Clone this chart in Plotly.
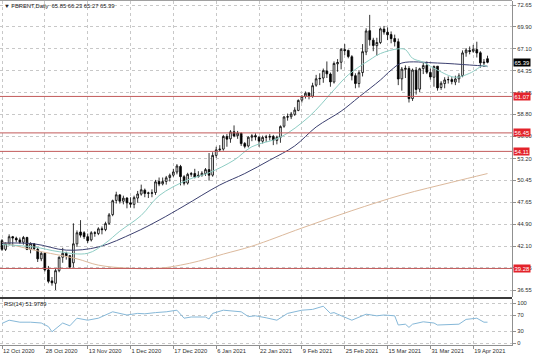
import pandas as pd
import plotly.graph_objects as go

# ---------------- data ----------------
symbol = "FBRENT,Daily"
holidays = ["2020-12-25", "2021-01-01", "2021-04-02"]
dates = [d for d in pd.bdate_range("2020-10-12", "2021-04-23") if d.strftime("%Y-%m-%d") not in holidays]

opens = [42.8, 41.7, 42.4, 43.3, 43.1, 42.9, 42.6, 43.2, 41.7, 42.4,
         41.7, 40.5, 41.2, 39.1, 37.7, 37.4, 39.0, 40.7, 41.2, 40.9,
         40.0, 42.4, 43.9, 43.8, 43.3, 42.9, 43.8, 43.7, 44.3, 44.2,
         45.0, 46.1, 47.9, 48.6, 47.8, 48.2, 47.6, 47.4, 48.2, 48.7,
         49.2, 48.8, 48.8, 48.9, 50.3, 50.0, 50.3, 50.8, 51.1, 51.5,
         52.2, 50.9, 50.1, 51.2, 51.3, 50.9, 51.1, 51.3, 51.8, 51.1,
         53.6, 54.3, 54.4, 56.0, 55.7, 56.6, 56.1, 56.4, 55.1, 54.8,
         55.9, 56.1, 55.9, 55.4, 55.9, 55.9, 56.0, 55.5, 55.9, 57.3,
         58.5, 58.5, 58.8, 59.3, 60.6, 61.1, 61.5, 61.1, 62.5, 63.3,
         63.4, 64.3, 63.9, 62.9, 65.2, 65.4, 67.0, 66.9, 66.1, 63.7,
         62.7, 64.1, 66.7, 69.4, 68.2, 67.5, 67.9, 69.6, 69.2, 68.9,
         68.4, 68.0, 63.3, 64.5, 64.6, 60.8, 64.4, 62.0, 64.6, 65.0,
         64.1, 63.5, 64.9, 62.2, 62.7, 63.2, 63.2, 62.9, 63.3, 63.7,
         66.6, 66.9, 66.8, 67.0, 66.6, 65.3, 65.85]
highs = [43.0, 42.6, 43.6, 43.4, 43.3, 43.2, 43.4, 43.3, 42.6, 42.5,
         41.9, 41.4, 41.3, 39.6, 38.2, 39.3, 40.8, 41.9, 41.4, 41.0,
         45.0, 44.1, 45.4, 44.0, 43.7, 44.0, 44.0, 44.5, 44.6, 45.2,
         46.3, 48.0, 49.0, 48.7, 48.5, 48.3, 48.3, 48.5, 49.1, 49.9,
         49.4, 49.0, 49.3, 50.5, 50.8, 50.8, 51.0, 51.3, 51.9, 52.5,
         52.4, 51.1, 51.4, 51.5, 51.9, 51.6, 51.6, 52.0, 53.9, 54.0,
         54.7, 54.9, 56.2, 56.3, 56.8, 57.4, 56.7, 56.5, 55.3, 56.0,
         56.3, 56.4, 56.0, 56.1, 56.2, 56.3, 56.2, 56.1, 57.4, 58.6,
         58.9, 59.1, 59.7, 60.7, 61.2, 61.7, 61.6, 62.8, 63.8, 64.0,
         64.6, 65.5, 64.1, 65.5, 65.8, 67.2, 67.7, 67.0, 66.3, 64.0,
         64.4, 67.7, 69.7, 71.4, 68.5, 68.5, 69.8, 70.0, 69.8, 69.3,
         68.9, 68.4, 64.8, 65.0, 64.9, 64.6, 64.8, 64.7, 65.4, 65.5,
         64.6, 65.0, 64.9, 63.0, 63.5, 63.6, 63.5, 63.7, 64.0, 66.9,
         67.2, 67.4, 67.6, 68.0, 66.8, 65.8, 66.23]
lows = [41.5, 41.5, 42.2, 42.1, 42.6, 42.4, 42.3, 41.6, 41.2, 41.6,
        40.1, 40.2, 38.9, 37.4, 37.1, 36.55, 38.8, 40.0, 40.4, 39.3,
        39.4, 42.0, 43.2, 43.0, 42.5, 42.7, 43.3, 43.5, 43.6, 44.0,
        44.8, 45.9, 47.5, 47.5, 47.4, 46.9, 47.0, 46.9, 47.6, 48.5,
        48.3, 48.2, 48.3, 48.6, 49.7, 49.8, 49.9, 50.3, 50.9, 51.2,
        49.8, 49.8, 49.9, 50.9, 50.7, 50.8, 50.9, 51.0, 50.4, 50.9,
        53.3, 54.1, 54.2, 54.7, 55.2, 55.9, 55.7, 54.8, 54.5, 54.6,
        55.4, 55.5, 54.7, 55.1, 55.3, 55.5, 54.9, 55.0, 55.2, 57.1,
        58.0, 58.2, 58.6, 59.2, 60.3, 60.8, 60.7, 60.9, 62.3, 62.5,
        62.8, 63.4, 62.3, 62.7, 64.2, 64.5, 66.3, 65.9, 63.1, 62.1,
        62.2, 63.6, 66.3, 67.5, 66.8, 66.2, 67.7, 68.9, 68.2, 67.8,
        67.4, 62.5, 61.8, 63.4, 60.3, 60.5, 61.3, 61.6, 63.9, 63.9,
        63.2, 62.3, 61.8, 61.9, 62.1, 62.7, 62.6, 62.5, 62.8, 63.5,
        66.1, 66.4, 66.6, 66.0, 64.7, 64.8, 65.27]
closes = [41.7, 42.45, 43.3, 43.15, 42.9, 42.6, 43.2, 41.7, 42.45, 41.8,
          40.5, 41.2, 39.1, 37.65, 37.46, 39.0, 40.7, 41.2, 40.9, 39.45,
          42.4, 43.8, 43.5, 43.3, 42.8, 43.8, 43.75, 44.3, 44.2, 44.96,
          46.06, 47.86, 48.61, 47.8, 48.18, 47.59, 47.42, 48.25, 48.71, 49.25,
          48.79, 48.84, 48.86, 50.25, 49.97, 50.29, 50.76, 51.08, 51.5, 52.26,
          50.91, 50.08, 51.2, 51.29, 50.86, 51.09, 51.34, 51.8, 51.09, 53.6,
          54.3, 54.38, 55.99, 55.66, 56.58, 56.06, 56.42, 55.1, 54.75, 55.9,
          56.08, 55.95, 55.41, 55.88, 55.91, 56.0, 55.53, 55.88, 57.25, 58.46,
          58.46, 58.84, 59.34, 60.56, 61.09, 61.47, 61.14, 62.43, 63.3, 63.35,
          64.34, 63.93, 62.91, 65.24, 65.37, 67.04, 66.88, 66.13, 63.69, 62.7,
          64.07, 66.74, 69.36, 68.24, 67.52, 67.9, 69.63, 69.22, 68.88, 68.39,
          68.0, 63.28, 64.53, 64.62, 60.79, 64.41, 61.95, 64.57, 64.98, 64.14,
          63.54, 64.86, 62.15, 62.74, 63.16, 63.2, 62.95, 63.28, 63.67, 66.58,
          66.94, 66.77, 67.05, 66.57, 65.32, 65.4, 65.39]

# moving averages, read at bar positions
ma_fast_idx = [0, 9, 16, 24, 29, 33, 39, 44, 52, 58, 65, 70, 78, 86, 93, 97, 103, 106, 111, 113, 115, 118, 122, 127, 131, 135, 136]
ma_fast_val = [42.3, 42.0, 41.4, 41.2, 42.5, 44.0, 46.0, 48.5, 50.5, 51.4, 53.0, 54.7, 55.9, 58.5, 61.9, 63.8, 65.7, 66.5, 67.1, 67.0, 65.9, 65.4, 64.4, 63.5, 64.0, 65.0, 64.8]
ma_mid_idx = [0, 9, 18, 27, 37, 44, 51, 61, 68, 75, 82, 88, 95, 100, 106, 109, 112, 122, 131, 136]
ma_mid_val = [42.5, 42.4, 41.6, 42.0, 43.8, 45.4, 47.2, 49.85, 51.3, 53.0, 54.8, 57.2, 59.2, 61.0, 63.15, 64.4, 65.3, 65.3, 65.05, 64.9]
ma_slow_idx = [0, 9, 21, 27, 36, 44, 50, 55, 62, 70, 84, 98, 112, 126, 136]
ma_slow_val = [42.6, 41.6, 40.5, 39.7, 39.3, 39.3, 39.7, 40.2, 41.1, 42.1, 44.4, 46.6, 48.6, 50.2, 51.3]

rsi_idx = [0, 2, 5, 8, 11, 13, 14, 17, 19, 21, 24, 27, 31, 35, 38, 40, 43, 46, 49, 51, 53, 57, 58, 59, 62, 65, 67, 69, 71, 74, 77, 80, 84, 87, 90, 92, 93, 94, 98, 102, 105, 107, 110, 111, 113, 114, 115, 118, 121, 122, 126, 128, 130, 133, 135, 136]
rsi_val = [49, 57, 52, 52, 50, 41, 28, 50, 43, 62, 57, 62, 78, 70, 74, 73, 76, 78, 82, 62, 65, 65, 60, 74, 82, 80, 78, 66, 68, 63, 57, 74, 82, 84, 92, 74, 76, 72, 57, 72, 68, 70, 68, 45, 47, 39, 47, 53, 50, 45, 47, 47, 59, 62, 52, 52]
rsi_label = "RSI(14) 51.9789"

levels = [61.07, 56.45, 54.11, 39.28]
price_ticks = [72.65, 69.90, 67.10, 64.35, 61.55, 58.80, 56.00, 53.20, 50.45, 47.65, 44.90, 42.10, 39.35, 36.55]
rsi_ticks = [100, 70, 30, 0]
date_ticks = ["2020-10-12", "2020-10-28", "2020-11-13", "2020-12-01", "2020-12-17", "2021-01-06",
              "2021-01-22", "2021-02-09", "2021-02-25", "2021-03-15", "2021-03-31", "2021-04-19"]

# ---------------- figure ----------------
idx = list(range(len(dates)))
date_strs = [d.strftime("%Y-%m-%d") for d in dates]
tick_pos = [date_strs.index(t) for t in date_ticks]
tick_txt = [pd.Timestamp(t).strftime("%-d %b %Y") for t in date_ticks]

FONT = "Liberation Sans"
GRID = "#c8c8c8"
FS = 5.8

fig = go.Figure()
fig.add_trace(go.Candlestick(
    x=idx, open=opens, high=highs, low=lows, close=closes,
    increasing=dict(line=dict(color="#000000", width=0.8), fillcolor="#ffffff"),
    decreasing=dict(line=dict(color="#000000", width=0.8), fillcolor="#000000"),
    whiskerwidth=0, showlegend=False, xaxis="x", yaxis="y"))
fig.add_trace(go.Scatter(x=ma_slow_idx, y=ma_slow_val, mode="lines", line=dict(color="#dcb99c", width=1, shape="spline"),
                         showlegend=False, xaxis="x", yaxis="y"))
fig.add_trace(go.Scatter(x=ma_mid_idx, y=ma_mid_val, mode="lines", line=dict(color="#3c4070", width=1, shape="spline"),
                         showlegend=False, xaxis="x", yaxis="y"))
fig.add_trace(go.Scatter(x=ma_fast_idx, y=ma_fast_val, mode="lines", line=dict(color="#8ecdc4", width=1, shape="spline"),
                         showlegend=False, xaxis="x", yaxis="y"))
fig.add_trace(go.Scatter(x=rsi_idx, y=rsi_val, mode="lines", line=dict(color="#86b8d8", width=1),
                         showlegend=False, xaxis="x2", yaxis="y2"))

for lv in levels:
    fig.add_shape(type="line", xref="x domain", yref="y", x0=0, x1=1, y0=lv, y1=lv,
                  line=dict(color="#c25a5a", width=1))
    fig.add_annotation(xref="paper", yref="y", x=513 / 536, y=lv, xanchor="left", yanchor="middle",
                       text=f"{lv:.2f}", showarrow=False, bgcolor="#e3232b", borderpad=0.6,
                       font=dict(family=FONT, size=FS, color="#ffffff"))

fig.add_annotation(xref="paper", yref="y", x=513 / 536, y=closes[-1], xanchor="left", yanchor="middle",
                   text=f"{closes[-1]:.2f}", showarrow=False, bgcolor="#000000", borderpad=0.6,
                   font=dict(family=FONT, size=FS, color="#ffffff"))

title = f"▼ {symbol}  {opens[-1]:.2f} {highs[-1]:.2f} {lows[-1]:.2f} {closes[-1]:.2f}"
fig.add_annotation(xref="paper", yref="paper", x=2 / 536, y=1 - 6 / 357, xanchor="left", yanchor="middle",
                   text=title, showarrow=False, font=dict(family=FONT, size=FS, color="#202020"))
fig.add_annotation(xref="paper", yref="paper", x=2 / 536, y=1 - 304 / 357, xanchor="left", yanchor="middle",
                   text=rsi_label, showarrow=False, font=dict(family=FONT, size=FS, color="#202020"))

# panel frame lines
fig.add_shape(type="line", xref="paper", yref="paper", x0=0, x1=512 / 536, y0=1 - 298 / 357, y1=1 - 298 / 357,
              line=dict(color="#3a3a3a", width=2))
fig.add_shape(type="line", xref="paper", yref="paper", x0=0, x1=512 / 536, y0=1 - 0.5 / 357, y1=1 - 0.5 / 357,
              line=dict(color="#a0a0a0", width=1))

x_range = [-0.56, 142.86]
xdom = [0, 512 / 536]
fig.update_layout(
    width=536, height=357, margin=dict(l=0, r=0, t=0, b=0),
    paper_bgcolor="#ffffff", plot_bgcolor="#ffffff",
    font=dict(family=FONT, size=FS, color="#303030"),
    hovermode=False,
    xaxis=dict(domain=xdom, range=x_range, anchor="y", tickvals=tick_pos, showticklabels=False,
               showgrid=True, gridcolor=GRID, griddash="dot", gridwidth=1, zeroline=False,
               rangeslider=dict(visible=False), ticks="", showline=False),
    yaxis=dict(domain=[1 - 297 / 357, 1 - 1 / 357], range=[35.665, 73.157], side="right", anchor="x",
               tickvals=price_ticks, ticktext=[f"{v:.2f}" for v in price_ticks],
               showgrid=True, gridcolor=GRID, griddash="dot", gridwidth=1, zeroline=False,
               showline=True, linecolor="#909090", linewidth=1, ticks="outside", ticklen=3,
               tickcolor="#909090", automargin=False, tickfont=dict(size=FS, color="#303030")),
    xaxis2=dict(domain=xdom, range=x_range, anchor="y2", tickvals=tick_pos, ticktext=tick_txt,
                ticklabelposition="outside right", showgrid=True, gridcolor=GRID, griddash="dot",
                gridwidth=1, zeroline=False, showline=True, linecolor="#909090", linewidth=1,
                ticks="outside", ticklen=3, tickcolor="#909090", automargin=False,
                tickfont=dict(size=FS, color="#303030")),
    yaxis2=dict(domain=[1 - 345 / 357, 1 - 299 / 357], range=[-5, 110], side="right", anchor="x2",
                tickvals=rsi_ticks, ticktext=[str(v) for v in rsi_ticks],
                showgrid=True, gridcolor=GRID, griddash="dot", gridwidth=1, zeroline=False,
                showline=True, linecolor="#909090", linewidth=1, ticks="outside", ticklen=3,
                tickcolor="#909090", automargin=False, tickfont=dict(size=FS, color="#303030")),
)

fig.write_html("out.html", config={"displayModeBar": False, "staticPlot": True},
               post_script="document.body.style.margin='0';document.body.style.padding='0';")
